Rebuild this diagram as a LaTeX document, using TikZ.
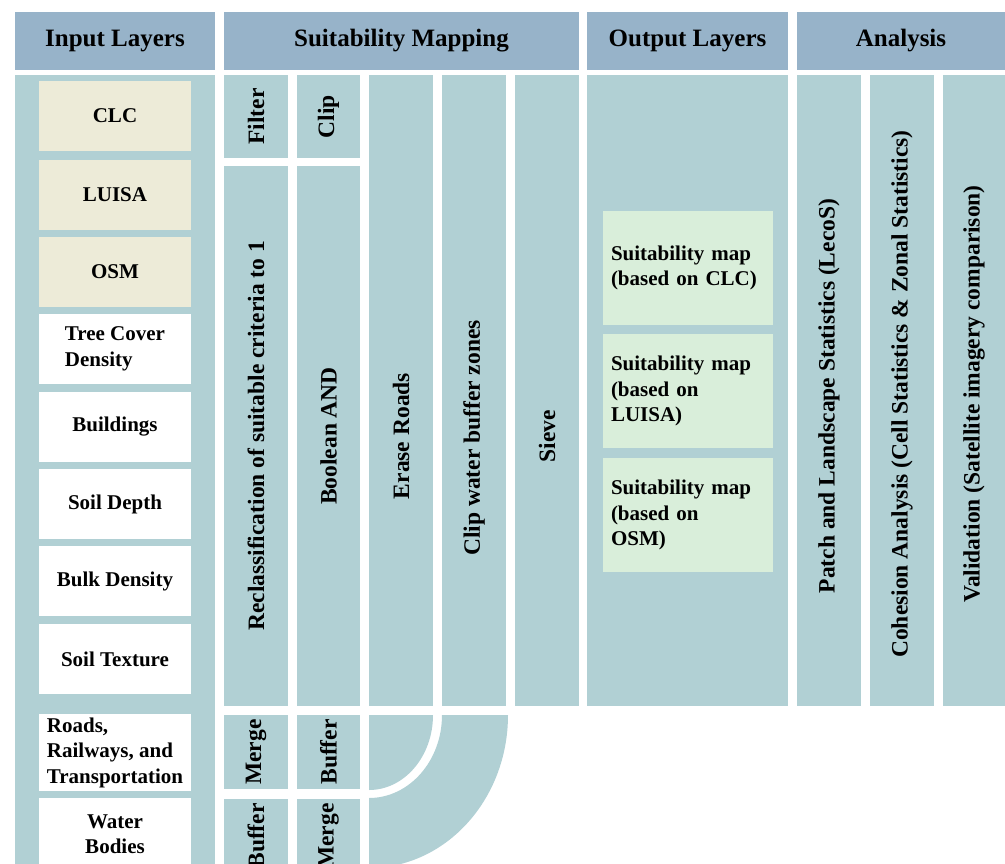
\documentclass[tikz,border=0pt]{standalone}
\usepackage{fontspec}
\setmainfont{Liberation Serif}

\definecolor{headblue}{HTML}{97B3C9}
\definecolor{panelteal}{HTML}{B1D0D4}
\definecolor{layerbeige}{HTML}{EDEBD8}
\definecolor{mapgreen}{HTML}{D9EEDA}

\begin{document}
\begin{tikzpicture}[x=1pt, y=-1pt,
		every node/.style={inner sep=0pt, outer sep=0pt},
		head/.style={fill=headblue, anchor=north west, minimum height=58pt, font=\fontsize{25}{28}\selectfont\bfseries},
		col/.style={fill=panelteal, anchor=north west},
		layer/.style={fill=white, anchor=north west, minimum width=152pt, minimum height=70pt, align=left, font=\fontsize{21}{25.5}\selectfont\bfseries},
		mapbox/.style={fill=mapgreen, anchor=north west, inner xsep=8pt, text width=154pt, minimum height=114pt, align=left, font=\fontsize{21}{25.5}\selectfont\bfseries},
		vtext/.style={rotate=90, font=\fontsize{23.5}{27}\selectfont\bfseries}
			]
	\useasboundingbox (0,0) rectangle (1005,863);
	\clip (0,0) rectangle (1005,863);

	% headers
	\node[head, minimum width=200pt] (inhead) at (15,12) {Input Layers};
	\node[head, minimum width=355pt] (suithead) at (224,12) {Suitability Mapping};
	\node[head, minimum width=201pt] (outhead) at (587,12) {Output Layers};
	\node[head, minimum width=208pt] (anahead) at (797,12) {Analysis};

	% input layers
	\node[col, minimum width=200pt, minimum height=800pt] (inpanel) at (15,75) {};
	\node[layer, fill=layerbeige] (clc) at (39,81) {CLC};
	\node[layer, fill=layerbeige] (luisa) at (39,160) {LUISA};
	\node[layer, fill=layerbeige] (osm) at (39,237) {OSM};
	\node[layer] (tree) at (39,314) {Tree Cover\\Density};
	\node[layer] (build) at (39,392) {Buildings};
	\node[layer] (depth) at (39,469) {Soil Depth};
	\node[layer] (bulk) at (39,546) {Bulk Density};
	\node[layer] (texture) at (39,624) {Soil Texture};
	\node[layer, minimum height=77pt] (roads) at (39,714) {Roads,\\Railways, and\\Transportation};
	\node[layer, minimum height=72pt, align=center] (water) at (39,798) {Water\\Bodies};

	% suitability mapping
	\node[col, minimum width=64pt, minimum height=83pt] (filter) at (224,75) {};
	\node[col, minimum width=63pt, minimum height=83pt] (clip) at (297,75) {};
	\node[col, minimum width=64pt, minimum height=540pt] (reclass) at (224,166) {};
	\node[col, minimum width=63pt, minimum height=540pt] (booland) at (297,166) {};
	\node[col, minimum width=64pt, minimum height=631pt] (erase) at (369,75) {};
	\node[col, minimum width=64pt, minimum height=631pt] (clipwater) at (442,75) {};
	\node[col, minimum width=64pt, minimum height=631pt] (sieve) at (515,75) {};

	\node[vtext] (filtertxt) at (256,116.5) {Filter};
	\node[vtext] (cliptxt) at (328.5,116.5) {Clip};
	\node[vtext] (reclasstxt) at (256,436) {Reclassification of suitable criteria to 1};
	\node[vtext] (boolandtxt) at (328.5,436) {Boolean AND};
	\node[vtext] (erasetxt) at (401,436) {Erase Roads};
	\node[vtext] (clipwatertxt) at (474,438) {Clip water buffer zones};
	\node[vtext] (sievetxt) at (547,436) {Sieve};

	% roads and water branch
	\node[col, minimum width=64pt, minimum height=74pt] (mergeroads) at (224,715) {};
	\node[col, minimum width=63pt, minimum height=74pt] (bufroads) at (297,715) {};
	\node[col, minimum width=64pt, minimum height=71pt] (bufwater) at (224,799) {};
	\node[col, minimum width=63pt, minimum height=71pt] (mergewater) at (297,799) {};
	\node[vtext] (mergeroadstxt) at (256,752) {Merge};
	\node[vtext] (bufroadstxt) at (328.5,752) {Buffer};
	\node[vtext] (bufwatertxt) at (256,836) {Buffer};
	\node[vtext] (mergewatertxt) at (328.5,836) {Merge};

	\fill[panelteal] (369,715) -- (433,715) arc[start angle=0, end angle=90, x radius=64, y radius=75] -- cycle;
	\fill[panelteal] (442,715) -- (508,715) arc[start angle=0, end angle=90, x radius=139, y radius=153]
		-- (369,798) arc[start angle=90, end angle=0, x radius=73, y radius=83] -- cycle;

	% output layers
	\node[col, minimum width=201pt, minimum height=631pt] (outpanel) at (587,75) {};
	\node[mapbox] (mapclc) at (603,211) {Suitability map\\(based on CLC)};
	\node[mapbox] (mapluisa) at (603,334) {Suitability map\\(based on\\LUISA)};
	\node[mapbox] (maposm) at (603,458) {Suitability map\\(based on\\OSM)};

	% analysis
	\node[col, minimum width=64pt, minimum height=631pt] (lecos) at (797,75) {};
	\node[col, minimum width=64pt, minimum height=631pt] (cohesion) at (870,75) {};
	\node[col, minimum width=70pt, minimum height=631pt] (valid) at (943,75) {};
	\node[vtext] (lecostxt) at (829,396) {Patch and Landscape Statistics (LecoS)};
	\node[vtext] (cohesiontxt) at (902,394) {Cohesion Analysis (Cell Statistics \& Zonal Statistics)};
	\node[vtext] (validtxt) at (974,394) {Validation (Satellite imagery comparison)};
 \end{tikzpicture}
\end{document}
